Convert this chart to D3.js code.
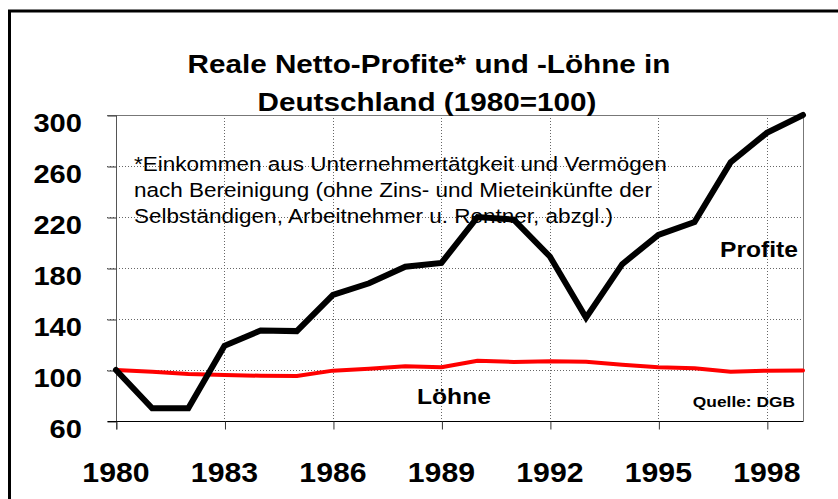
<!DOCTYPE html>
<html>
<head>
<meta charset="utf-8">
<script src="https://cdn.jsdelivr.net/npm/d3@7"></script>
<style>
  body { margin: 0; background: #fff; }
  text { font-family: "Liberation Sans", Arial, sans-serif; fill: #000; }
</style>
</head>
<body>
<div id="chart"></div>
<script>
  // data
  var years = d3.range(1980, 2000);
  var profite = [100, 70, 70, 119, 131, 130.5, 159, 168, 181, 184, 220, 218, 189, 141, 183, 206, 216, 263, 286, 300];
  var loehne  = [100, 98.7, 96.9, 96.1, 95.5, 95.3, 99.5, 101, 102.9, 102.1, 107.3, 106.3, 106.8, 106.5, 104.2, 102.1, 101.3, 98.7, 99.5, 99.7];
  var yTicks = [60, 100, 140, 180, 220, 260, 300];
  var xTicks = [1980, 1983, 1986, 1989, 1992, 1995, 1998];
  var titleLines = ["Reale Netto-Profite* und -Löhne in", "Deutschland (1980=100)"];
  var noteLines = [
    "*Einkommen aus Unternehmertätgkeit und Vermögen",
    "nach Bereinigung (ohne Zins- und Mieteinkünfte der",
    "Selbständigen, Arbeitnehmer u. Rentner, abzgl.)"
  ];

  var width = 838, height = 499;
  var stretch = 1.12; // the original text is a bit wider than Arial

  var svg = d3.select("#chart").append("svg")
      .attr("width", width)
      .attr("height", height);

  var x = d3.scaleLinear().domain([1980, 1999]).range([116, 803]);
  var y = d3.scaleLinear().domain([60, 300]).range([421, 115]);

  // outer frame (runs off the right and bottom edge)
  svg.append("rect")
    .attr("x", 9.5).attr("y", 11)
    .attr("width", 900).attr("height", 600)
    .attr("fill", "none")
    .attr("stroke", "#000")
    .attr("stroke-width", 3);

  function addText(str, px, py, size, weight, anchor, sx) {
    return svg.append("text")
      .attr("transform", "translate(" + px + "," + py + ") scale(" + (sx || stretch) + ",1)")
      .attr("text-anchor", anchor || "start")
      .style("font-size", size + "px")
      .style("font-weight", weight || "normal")
      .text(str);
  }

  // grid
  svg.append("g").selectAll("line")
    .data(yTicks.filter(function(d) { return d > 60 && d < 300; }))
    .enter().append("line")
    .attr("x1", 107).attr("x2", x(1999))
    .attr("y1", function(d) { return Math.round(y(d)) + 0.5; })
    .attr("y2", function(d) { return Math.round(y(d)) + 0.5; })
    .attr("stroke", "#666")
    .attr("stroke-width", 1)
    .attr("stroke-dasharray", "1,2");

  svg.append("g").selectAll("line")
    .data(xTicks.slice(1))
    .enter().append("line")
    .attr("x1", function(d) { return Math.round(x(d)) + 0.5; })
    .attr("x2", function(d) { return Math.round(x(d)) + 0.5; })
    .attr("y1", y(300)).attr("y2", y(60))
    .attr("stroke", "#666")
    .attr("stroke-width", 1)
    .attr("stroke-dasharray", "1,2");

  // frame of plot area
  svg.append("line")
    .attr("x1", 107).attr("x2", x(1999) + 0.5)
    .attr("y1", y(300) + 0.5).attr("y2", y(300) + 0.5)
    .attr("stroke", "#777");
  svg.append("line")
    .attr("x1", x(1999) + 0.5).attr("x2", x(1999) + 0.5)
    .attr("y1", y(300)).attr("y2", y(60))
    .attr("stroke", "#777");

  // axes
  var yAxis = d3.axisLeft(y).tickValues(yTicks).tickSize(9).tickFormat("");
  var gy = svg.append("g").attr("transform", "translate(" + (x(1980) + 0.5) + ",0.5)").call(yAxis);
  gy.select(".domain").attr("stroke", "#555").attr("d", "M0," + y(300) + "V" + (y(60) + 8));
  gy.selectAll(".tick line").attr("stroke", "#333");

  var xAxis = d3.axisBottom(x).tickValues(xTicks).tickSize(8).tickFormat("");
  var gx = svg.append("g").attr("transform", "translate(0.5," + (y(60) + 0.5) + ")").call(xAxis);
  gx.select(".domain").attr("stroke", "#000").attr("d", "M107,0H" + x(1999));
  gx.selectAll(".tick line").attr("stroke", "#333");

  yTicks.forEach(function(v) {
    addText(String(v), 82, y(v) + 17, 26, "bold", "end");
  });
  xTicks.forEach(function(v) {
    addText(String(v), x(v), 481.5, 27, "bold", "middle");
  });

  // title
  addText(titleLines[0], 429, 72.5, 26.5, "bold", "middle");
  addText(titleLines[1], 427, 111, 26.5, "bold", "middle");

  // footnote
  noteLines.forEach(function(t, i) {
    addText(t, 134, 171 + i * 26, 19.5, "normal", "start", 1.155);
  });

  // series
  var line = d3.line()
    .x(function(d, i) { return x(years[i]); })
    .y(function(d) { return y(d); });

  svg.append("path")
    .datum(loehne)
    .attr("d", line)
    .attr("fill", "none")
    .attr("stroke", "#ff0000")
    .attr("stroke-width", 4)
    .attr("stroke-linecap", "round")
    .attr("stroke-linejoin", "round");

  svg.append("path")
    .datum(profite)
    .attr("d", line)
    .attr("fill", "none")
    .attr("stroke", "#000")
    .attr("stroke-width", 6)
    .attr("stroke-linecap", "round")
    .attr("stroke-linejoin", "miter");

  // series labels
  addText("Profite", 798, 257, 22, "bold", "end");
  addText("Löhne", 417, 404, 22, "bold", "start");
  addText("Quelle: DGB", 795, 406.5, 15.5, "bold", "end");
</script>
</body>
</html>
